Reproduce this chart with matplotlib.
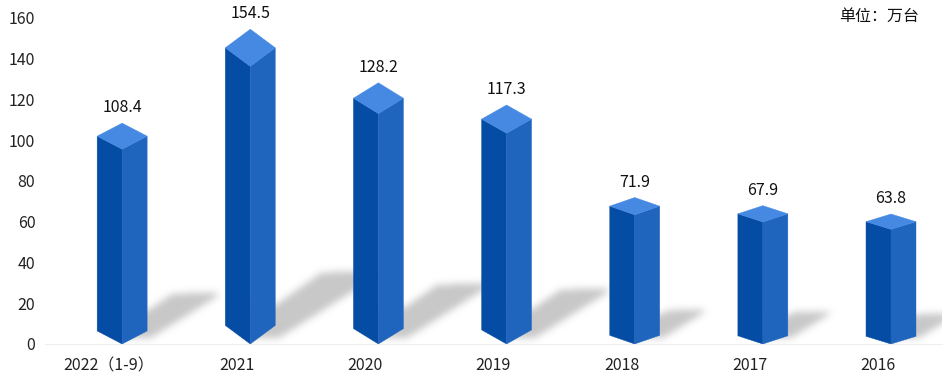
import matplotlib
matplotlib.use("Agg")
import matplotlib.pyplot as plt
from matplotlib.patches import Polygon
from matplotlib.path import Path
import numpy as np

plt.rcParams['font.family'] = ['Noto Sans CJK SC', 'DejaVu Sans']

years = ['2022（1-9）', '2021', '2020', '2019', '2018', '2017', '2016']
values = [108.4, 154.5, 128.2, 117.3, 71.9, 67.9, 63.8]
y_ticks = [0, 20, 40, 60, 80, 100, 120, 140, 160]

W, H = 949, 382
left, right, top, bottom = 45, 942, 18, 344
bar_off = 0.102    # bars sit to the right of their category
half_w = 0.195
depth = 0.059      # diamond half height, as a share of the value

fig = plt.figure(figsize=(W / 100, H / 100), dpi=100)
ax = fig.add_axes([left / W, 1 - bottom / H, (right - left) / W, (bottom - top) / H])


def blur(a, size=7):
    # three box passes, close enough to a gaussian
    kernel = np.ones(size) / size
    for _ in range(3):
        a = np.apply_along_axis(lambda r: np.convolve(r, kernel, mode='same'), 0, a)
        a = np.apply_along_axis(lambda r: np.convolve(r, kernel, mode='same'), 1, a)
    return a


# shadows are rasterised so they can be blurred
gx = np.linspace(-0.5, 6.9, 947)
gy = np.linspace(0, 90, 183)
xx, yy = np.meshgrid(gx, gy)
pts = np.column_stack([xx.ravel(), yy.ravel()])
mask = np.zeros(xx.shape)
for i, v in enumerate(values):
    cx = i + bar_off
    upper = 9.8 + 0.059 * v
    reach = 0.16 + 0.0054 * v
    shadow = [(cx, upper),
              (cx + half_w, upper),
              (cx + 0.0036 * v, 0.226 * v),
              (cx + reach - 0.01, 0.232 * v),
              (cx + reach, 0.216 * v),
              (cx + half_w + 0.02, 2.5),
              (cx, 2.5)]
    inside = Path(shadow).contains_points(pts).reshape(xx.shape)
    mask = np.maximum(mask, inside.astype(float))

rgba = np.zeros(mask.shape + (4,))
rgba[..., :3] = 200 / 255
rgba[..., 3] = blur(mask)
ax.imshow(rgba, extent=(gx[0], gx[-1], gy[0], gy[-1]), origin='lower', aspect='auto',
          interpolation='bilinear', zorder=1)

for i, v in enumerate(values):
    cx = i + bar_off
    d = depth * v

    # left face, right face, top diamond
    ax.add_patch(Polygon([(cx - half_w, d), (cx, 0), (cx, v - 2 * d), (cx - half_w, v - d)],
                         closed=True, fc='#054da4', ec='#054da4', lw=0.3, zorder=3))
    ax.add_patch(Polygon([(cx, 0), (cx + half_w, d), (cx + half_w, v - d), (cx, v - 2 * d)],
                         closed=True, fc='#1f65bd', ec='#1f65bd', lw=0.3, zorder=3))
    ax.add_patch(Polygon([(cx - half_w, v - d), (cx, v), (cx + half_w, v - d), (cx, v - 2 * d)],
                         closed=True, fc='#4589e3', ec='#4589e3', lw=0.3, zorder=3))

    ax.annotate(f'{v:.1f}', xy=(cx, v), xytext=(0, 11), textcoords='offset points',
                ha='center', va='center', fontsize=11.5, color='#111111')

ax.set_xlim(-0.5, 6.5)
ax.set_ylim(0, 160)

for s in ['top', 'right', 'left']:
    ax.spines[s].set_visible(False)
ax.spines['bottom'].set_color('#eeeeee')

ax.set_xticks(range(len(years)))
ax.set_xticklabels(years)
ax.set_yticks(y_ticks)
ax.tick_params(axis='both', length=0, labelsize=11.5, labelcolor='#222222')
ax.tick_params(axis='x', pad=9.5)
ax.tick_params(axis='y', pad=7)

fig.text(919 / W, 1 - 16 / H, '单位：万台', ha='right', va='center', fontsize=11.5, color='#111111')

plt.savefig('out.png', dpi=100)
